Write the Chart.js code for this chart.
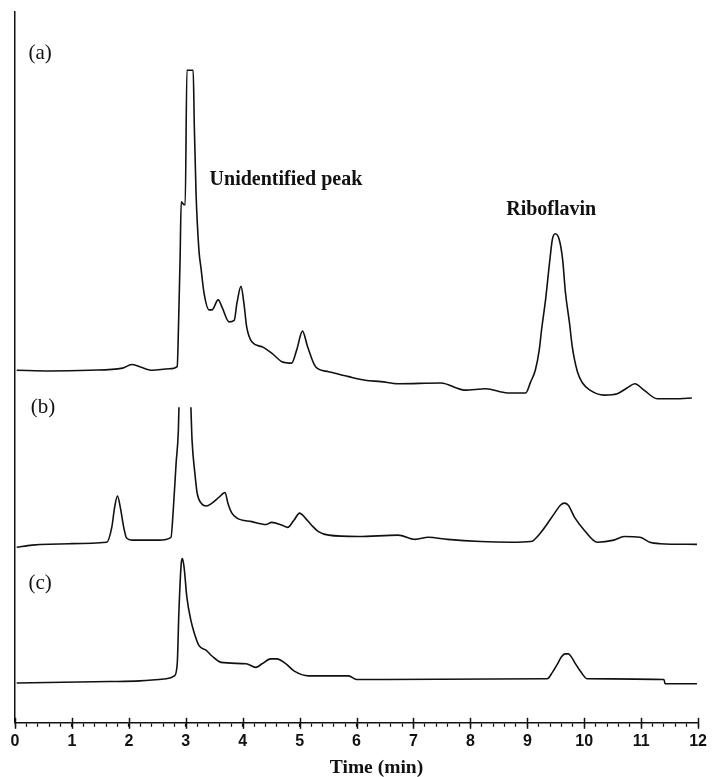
<!DOCTYPE html>
<html>
<head>
<meta charset="utf-8">
<script src="https://cdn.jsdelivr.net/npm/chart.js@4.4.1/dist/chart.umd.min.js"></script>
<style>
    html, body { margin: 0; padding: 0; background: #fff; }
    #wrap { width: 712px; height: 777px; }
</style>
</head>
<body>
<div id="wrap"><canvas id="chromatogram"></canvas></div>
<script>
// retention time (min) and detector signal (arbitrary units)
const timeA = [0.03, 0.61, 1.31, 1.89, 2.05, 2.19, 2.41, 2.71, 2.85, 2.87, 2.90, 2.92, 2.97, 2.99, 3.02, 3.13, 3.15, 3.18, 3.23, 3.27, 3.32, 3.41, 3.46, 3.57, 3.64, 3.76, 3.85, 3.90, 3.97, 4.02, 4.07, 4.16, 4.34, 4.51, 4.69, 4.86, 4.95, 5.05, 5.14, 5.28, 5.51, 5.86, 6.15, 6.43, 6.73, 7.48, 7.90, 8.27, 8.65, 8.97, 9.06, 9.14, 9.21, 9.25, 9.32, 9.39, 9.44, 9.49, 9.56, 9.62, 9.67, 9.74, 9.79, 9.88, 9.97, 10.10, 10.35, 10.58, 10.75, 10.89, 11.05, 11.28, 11.68, 11.89];
const signalA = [49.6, 49.5, 49.6, 49.9, 50.4, 50.1, 49.6, 49.8, 50.1, 55.0, 65.2, 73.3, 72.9, 72.9, 91.8, 91.8, 83.9, 74.6, 66.6, 63.8, 60.5, 58.1, 58.1, 59.5, 58.4, 56.4, 56.6, 59.1, 61.4, 59.1, 55.7, 53.6, 52.9, 52.0, 50.8, 50.6, 52.5, 55.1, 52.9, 50.1, 49.4, 48.7, 48.2, 48.0, 47.7, 47.8, 46.8, 47.0, 46.4, 46.4, 48.0, 49.6, 52.5, 55.3, 59.5, 64.7, 68.0, 68.8, 68.0, 65.2, 60.5, 56.3, 52.9, 49.4, 47.8, 46.8, 46.1, 46.3, 47.1, 47.7, 46.8, 45.6, 45.6, 45.7];

// trace (b) runs off the top of its panel around 3 min, hence the gap
const timeB = [0.03, 0.30, 0.96, 1.61, 1.70, 1.75, 1.80, 1.85, 1.91, 1.96, 2.06, 2.53, 2.74, 2.78, 2.83, 2.87, 2.88, 3.00, 3.09, 3.11, 3.16, 3.20, 3.27, 3.36, 3.46, 3.58, 3.69, 3.74, 3.81, 3.90, 4.16, 4.41, 4.51, 4.69, 4.79, 4.90, 5.00, 5.10, 5.21, 5.33, 5.51, 6.03, 6.73, 7.03, 7.26, 7.60, 8.18, 8.71, 9.06, 9.23, 9.48, 9.58, 9.65, 9.72, 9.83, 10.00, 10.23, 10.52, 10.70, 10.98, 11.15, 11.33, 11.98];
const signalB = [24.7, 25.0, 25.2, 25.4, 27.5, 30.3, 31.9, 30.3, 27.5, 26.0, 25.7, 25.7, 26.1, 29.9, 36.5, 41.2, 44.4, null, 44.4, 39.8, 35.1, 32.3, 30.9, 30.5, 30.9, 31.7, 32.4, 30.9, 29.5, 28.8, 28.3, 27.9, 28.2, 27.8, 27.5, 28.5, 29.5, 28.8, 27.8, 26.9, 26.4, 26.2, 26.4, 25.8, 26.1, 25.8, 25.5, 25.4, 25.5, 26.7, 29.5, 30.6, 30.9, 30.6, 28.9, 27.1, 25.4, 25.7, 26.2, 26.1, 25.4, 25.2, 25.1];

const timeC = [0.03, 1.66, 2.19, 2.66, 2.80, 2.85, 2.88, 2.92, 2.94, 2.97, 3.02, 3.09, 3.15, 3.23, 3.36, 3.46, 3.62, 4.06, 4.23, 4.34, 4.49, 4.60, 4.76, 4.90, 5.16, 5.86, 6.00, 9.35, 9.44, 9.53, 9.60, 9.66, 9.72, 9.78, 9.83, 9.93, 10.05, 11.40, 11.42, 11.98];
const signalC = [5.6, 5.8, 5.9, 6.2, 6.6, 8.3, 15.8, 22.4, 23.1, 21.9, 17.6, 14.4, 12.6, 10.9, 10.2, 9.4, 8.5, 8.3, 7.8, 8.3, 9.0, 9.0, 8.3, 7.3, 6.6, 6.6, 6.1, 6.2, 7.1, 8.3, 9.3, 9.7, 9.7, 9.2, 8.5, 7.3, 6.2, 6.1, 5.5, 5.5];

const xTicks = [0, 1, 2, 3, 4, 5, 6, 7, 8, 9, 10, 11, 12];

const serif = '"Liberation Serif", "Times New Roman", serif';

// text on the plot: time, signal (or pixel offset below the axis)
const notes = [
    { text: '(a)', t: 0.44, v: 94.2, font: '21px ' + serif },
    { text: '(b)', t: 0.49, v: 44.4, font: '21px ' + serif },
    { text: '(c)', t: 0.44, v: 19.6, font: '21px ' + serif },
    { text: 'Unidentified peak', t: 4.76, v: 76.4, font: 'bold 20px ' + serif },
    { text: 'Riboflavin', t: 9.42, v: 72.2, font: 'bold 20px ' + serif }
];
const axisTitle = { text: 'Time (min)', t: 6.35, below: 45, font: 'bold 19.5px ' + serif };

function toPoints(times, values) {
    return times.map((t, i) => ({ x: t, y: values[i] }));
}

function traceDataset(label, times, values) {
    return {
        label,
        data: toPoints(times, values),
        borderColor: '#111',
        borderWidth: 1.6,
        pointRadius: 0,
        cubicInterpolationMode: 'monotone',
        spanGaps: false,
        fill: false
    };
}

const notesPlugin = {
    id: 'notes',
    afterDraw(chart) {
        const { ctx, scales: { x, y } } = chart;
        ctx.save();
        ctx.fillStyle = '#111';
        ctx.textAlign = 'center';
        ctx.textBaseline = 'middle';
        notes.forEach(n => {
            ctx.font = n.font;
            ctx.fillText(n.text, x.getPixelForValue(n.t), y.getPixelForValue(n.v));
        });
        ctx.font = axisTitle.font;
        ctx.fillText(axisTitle.text, x.getPixelForValue(axisTitle.t), y.getPixelForValue(0) + axisTitle.below);
        ctx.restore();
    }
};

// longer marks on whole minutes
const majorTicksPlugin = {
    id: 'majorTicks',
    afterDraw(chart) {
        const { ctx, scales: { x, y } } = chart;
        const yAxis = y.getPixelForValue(0);
        ctx.save();
        ctx.strokeStyle = '#111';
        ctx.lineWidth = 1.5;
        xTicks.forEach(t => {
            const px = Math.round(x.getPixelForValue(t)) + 0.5;
            ctx.beginPath();
            ctx.moveTo(px, yAxis - 5);
            ctx.lineTo(px, yAxis + 6);
            ctx.stroke();
        });
        ctx.restore();
    }
};

new Chart(document.getElementById('chromatogram'), {
    type: 'line',
    data: {
        datasets: [
            traceDataset('(a)', timeA, signalA),
            traceDataset('(b)', timeB, signalB),
            traceDataset('(c)', timeC, signalC)
        ]
    },
    options: {
        responsive: true,
        maintainAspectRatio: false,
        animation: false,
        layout: { padding: { left: 15, right: 7, top: 12, bottom: 21 } },
        plugins: {
            legend: { display: false },
            tooltip: { enabled: false }
        },
        scales: {
            x: {
                type: 'linear',
                min: 0,
                max: 12,
                grid: {
                    drawOnChartArea: false,
                    drawTicks: true,
                    tickLength: 4,
                    tickColor: '#111',
                    tickWidth: 1.2
                },
                border: { display: true, color: '#111', width: 1.5 },
                ticks: {
                    stepSize: 0.2,
                    autoSkip: false,
                    maxRotation: 0,
                    padding: 5,
                    color: '#111',
                    font: { family: '"Liberation Sans", Arial, sans-serif', size: 16, weight: 'bold' },
                    callback: v => (Math.abs(v - Math.round(v)) < 1e-6 ? String(Math.round(v)) : '')
                }
            },
            y: {
                min: 0,
                max: 100,
                grid: { display: false, drawTicks: false },
                border: { display: true, color: '#111', width: 1.5 },
                ticks: { display: false }
            }
        }
    },
    plugins: [notesPlugin, majorTicksPlugin]
});
</script>
</body>
</html>
